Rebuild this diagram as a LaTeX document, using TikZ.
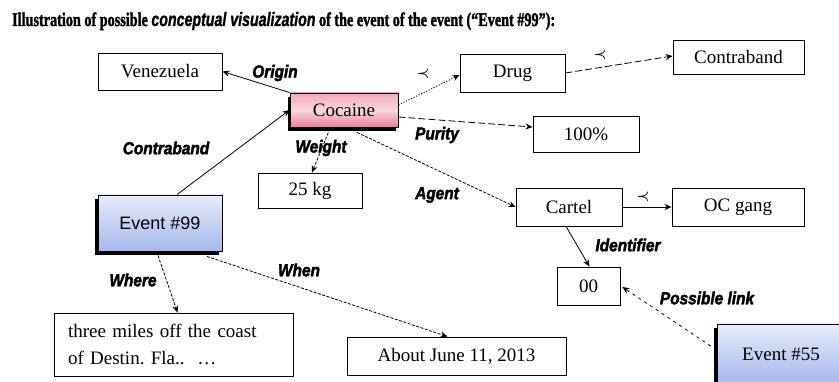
\documentclass[tikz,border=0pt]{standalone}
\usepackage{fontspec}
\setmainfont{Liberation Serif}
\setsansfont{Liberation Sans}
\newfontfamily\lblfont{Liberation Sans}[FakeStretch=0.88,FakeBold=2.2]
\newfontfamily\ttlserif{Liberation Serif}[FakeBold=2]
\newfontfamily\ttlsans{Liberation Sans}[FakeBold=1.5]
\usetikzlibrary{arrows.meta,calc,shadows}
\definecolor{pinktop}{RGB}{242,170,186}
\definecolor{pinkmid}{RGB}{250,214,222}
\definecolor{pinkbot}{RGB}{234,128,152}
\definecolor{bluetop}{RGB}{230,236,251}
\definecolor{bluebot}{RGB}{166,184,236}
\newcommand{\precsign}{\ensuremath{\prec}}
\frenchspacing
\begin{document}
\begin{tikzpicture}[x=1pt,y=-1pt,
  box/.style={draw=black, line width=0.9pt, inner sep=0pt,
    font=\fontsize{19}{22}\selectfont},
  pinkbox/.style={box, top color=pinktop, bottom color=pinkbot, middle color=pinkmid,
    drop shadow={shadow xshift=-2pt, shadow yshift=-4pt, fill=black, opacity=1}},
  bluebox/.style={box, top color=bluetop, bottom color=bluebot,
    drop shadow={shadow xshift=-3pt, shadow yshift=-4pt, fill=black, opacity=1}},
  lbl/.style={inner sep=0pt, font=\lblfont\bfseries\itshape\fontsize{17.5}{17.5}\selectfont},
  precmark/.style={inner sep=0pt, font=\boldmath\fontsize{15}{15}\selectfont},
  link/.style={line width=0.8pt, -{Stealth[length=7pt,width=6pt]}},
  dotline/.style={link, dash pattern=on 1.2pt off 1.6pt},
  longdash/.style={link, dash pattern=on 7pt off 3pt},
  shortdash/.style={link, dash pattern=on 3pt off 1.5pt},
  sparsedash/.style={link, dash pattern=on 3pt off 4pt}
]
\useasboundingbox (0,0) rectangle (839,382);
\clip (0,0) rectangle (839,382);

% heading
\node[anchor=base west, inner sep=0pt] (title) at (12,26)
  {\resizebox{543pt}{14pt}{\ttlserif\bfseries Illustration of possible
   {\ttlsans\bfseries\itshape conceptual visualization} of the event of the event (“Event \#99”):}};

% concept boxes
\node[box, minimum width=124pt, minimum height=37pt] (ven) at (160,71.5) {Venezuela};
\node[pinkbox, minimum width=108pt, minimum height=34pt] (coc) at (344,110) {Cocaine};
\node[box, minimum width=105pt, minimum height=38pt] (drug) at (512.5,73) {Drug};
\node[box, minimum width=131pt, minimum height=34pt] (contra) at (738.5,57) {Contraband};
\node[box, minimum width=106pt, minimum height=36pt] (pur) at (586,134) {100\%};
\node[box, minimum width=104pt, minimum height=35pt] (kg) at (310,190.5) {25 kg};
\node[bluebox, minimum width=124pt, minimum height=56pt,
  font=\sffamily\fontsize{18}{20}\selectfont] (ev99) at (160,223) {Event \#99};
\node[box, minimum width=106pt, minimum height=38pt] (cartel) at (569,207) {Cartel};
\node[box, minimum width=132pt, minimum height=38pt] (oc) at (738,207) {OC gang};
\node[box, minimum width=63pt, minimum height=38pt] (id) at (588.5,286) {00};
\node[bluebox, minimum width=128pt, minimum height=60pt] (ev55) at (781,354) {Event \#55};
\node[box, align=left, text width=211pt, inner xsep=14pt, minimum height=63pt,
  font=\fontsize{19}{27}\selectfont] (three) at (173.5,344.5)
  {three miles off the coast\\of Destin. Fla..\ \ …};
\node[box, minimum width=219pt, minimum height=38pt] (about) at (456.5,356) {About June 11, 2013};

% relations
\draw[link] (coc.north west) -- (ven.east);
\draw[link] ($(ev99.north)+(17,0)$) -- (coc.west);
\draw[dotline] ($(coc.east)+(0,-5)$) -- ($(drug.west)+(0,2)$);
\draw[longdash] (drug.east) -- ($(contra.west)+(0,-1)$);
\draw[longdash] ($(coc.east)+(0,7)$) -- ($(pur.west)+(0,-7)$);
\draw[shortdash] ($(coc.south)+(-14,1)$) -- ($(kg.north)+(2,0)$);
\draw[shortdash] ($(coc.south)+(13,5)$) -- (cartel.west);
\draw[link] (cartel.east) -- (oc.west);
\draw[link] ($(cartel.south)+(-3,0)$) -- ($(id.north)+(1,0)$);
\draw[sparsedash] ($(ev55.west)+(0,-4)$) -- ($(id.east)+(2,1)$);
\draw[shortdash] ($(ev99.south)+(-2,4)$) -- ($(three.north)+(4,0)$);
\draw[shortdash] ($(ev99.south)+(47,5)$) -- ($(about.north)+(-9,0)$);

% relation names
\node[lbl] (lorigin) at (275,73) {Origin};
\node[lbl] (lcontra) at (166,148) {Contraband};
\node[lbl] (lweight) at (321,148) {Weight};
\node[lbl] (lpurity) at (437,135) {Purity};
\node[lbl] (lagent) at (437,195) {Agent};
\node[lbl] (lident) at (628,245) {Identifier};
\node[lbl] (llink) at (707,298) {Possible link};
\node[lbl] (lwhere) at (133,280) {Where};
\node[lbl] (lwhen) at (299,270) {When};
\node[precmark] (p1) at (423,74) {\precsign};
\node[precmark] (p2) at (600,55) {\precsign};
\node[precmark] (p3) at (643,197) {\precsign};
\end{tikzpicture}
\end{document}
